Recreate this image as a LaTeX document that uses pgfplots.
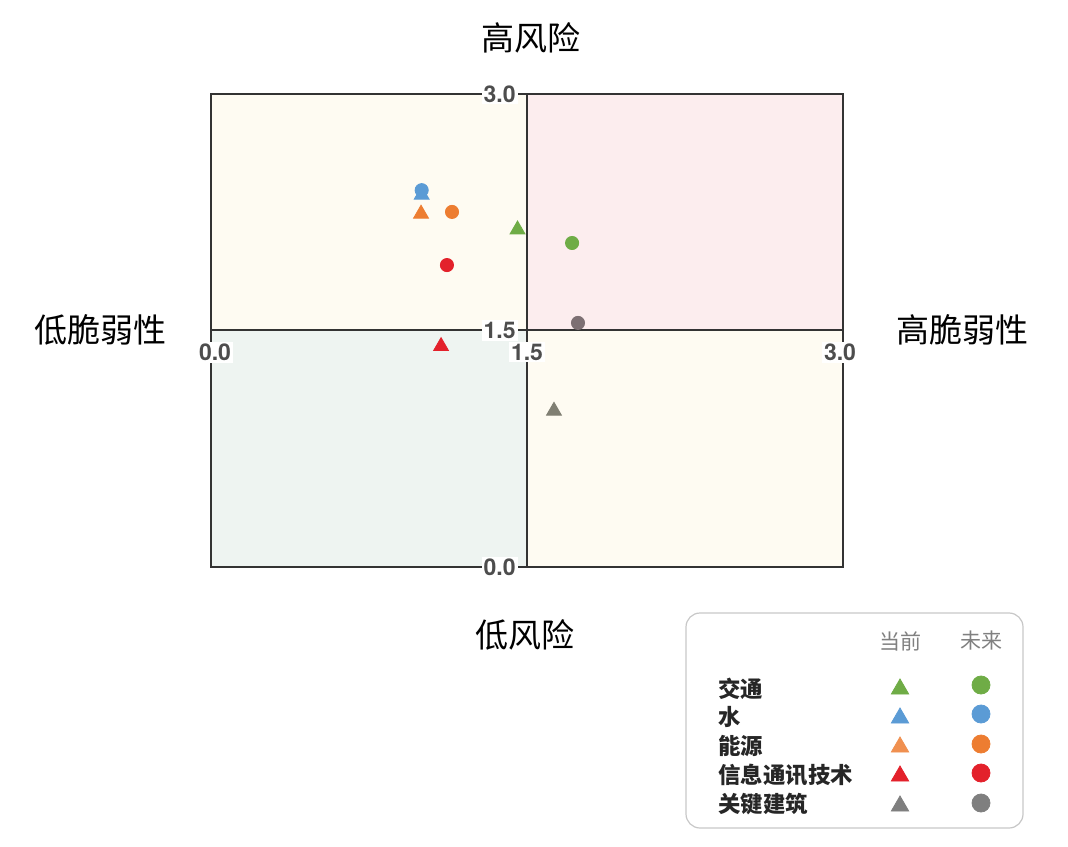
\documentclass[border=0pt]{standalone}
\usepackage{pgfplots}
\pgfplotsset{compat=1.18}
\usepackage{fontspec}
\setmainfont{TeX Gyre Heros}
\newfontfamily\cjk{Noto Sans CJK SC}

\definecolor{cgreen}{HTML}{6FAC46}
\definecolor{cblue}{HTML}{5B9BD5}
\definecolor{corange}{HTML}{ED7D31}
\definecolor{cred}{HTML}{E3212B}
\definecolor{cgrayt}{HTML}{807F73}
\definecolor{cgrayc}{HTML}{7D7073}
\definecolor{cgray}{HTML}{7F7F7F}
\definecolor{qyellow}{HTML}{FEFBF2}
\definecolor{qpink}{HTML}{FCEDEE}
\definecolor{qgreen}{HTML}{EEF4F1}
\definecolor{frame}{HTML}{333333}
\definecolor{ticktext}{HTML}{4D4D4D}

\tikzset{
    ttl/.style={font=\cjk\fontsize{16.5}{18}\selectfont, text=black},
    tk/.style={font=\fontsize{11.5}{13}\selectfont\bfseries, text=ticktext,
        fill=white, inner sep=1pt},
    lg/.style={font=\cjk\bfseries\fontsize{11.2}{13}\selectfont, text=black!85, anchor=west, inner sep=0pt},
    hd/.style={font=\cjk\fontsize{10.5}{12}\selectfont, text=gray, inner sep=0pt},
}

\begin{document}
\begin{tikzpicture}[x=0.5pt, y=0.5pt]
\path[use as bounding box] (0,0) rectangle (1068,846);

% axis titles
\node[ttl] at (531,808) {高风险};
\node[ttl] at (525,211) {低风险};
\node[ttl] at (100,516) {低脆弱性};
\node[ttl] at (962,516) {高脆弱性};

\begin{axis}[
    at={(105.5pt,139.5pt)}, anchor=south west,
    scale only axis, width=316pt, height=236.5pt,
    xmin=0, xmax=3, ymin=0, ymax=3,
    axis lines=none, clip=false,
]
    % quadrants
    \fill[qyellow] (axis cs:0,1.5) rectangle (axis cs:1.5,3);
    \fill[qpink]   (axis cs:1.5,1.5) rectangle (axis cs:3,3);
    \fill[qgreen]  (axis cs:0,0) rectangle (axis cs:1.5,1.5);
    \fill[qyellow] (axis cs:1.5,0) rectangle (axis cs:3,1.5);
    \draw[frame, line width=1pt] (axis cs:0,0) rectangle (axis cs:3,3);
    \draw[frame, line width=1pt] (axis cs:1.5,0) -- (axis cs:1.5,3);
    \draw[frame, line width=1pt] (axis cs:0,1.5) -- (axis cs:3,1.5);
    % tick labels
    \node[tk, anchor=east, xshift=-4.5pt] at (axis cs:1.5,3) {3.0};
    \node[tk, anchor=east, xshift=-4.5pt] at (axis cs:1.5,1.5) {1.5};
    \node[tk, anchor=east, xshift=-4.5pt] at (axis cs:1.5,0) {0.0};
    \node[tk, anchor=north, yshift=-5.5pt, xshift=2pt] at (axis cs:0,1.5) {0.0};
    \node[tk, anchor=north, yshift=-5.5pt] at (axis cs:1.5,1.5) {1.5};
    \node[tk, anchor=north, yshift=-5.5pt, xshift=-1.5pt] at (axis cs:3,1.5) {3.0};

    % current (triangles)
    \addplot[only marks, mark=triangle*, mark size=4.3pt, color=cgreen]  coordinates {(1.455,2.14)};
    \addplot[only marks, mark=triangle*, mark size=4.3pt, color=cblue]   coordinates {(1.0,2.36)};
    \addplot[only marks, mark=triangle*, mark size=4.3pt, color=corange] coordinates {(0.997,2.24)};
    \addplot[only marks, mark=triangle*, mark size=4.3pt, color=cred]    coordinates {(1.092,1.40)};
    \addplot[only marks, mark=triangle*, mark size=4.3pt, color=cgrayt]  coordinates {(1.628,0.99)};
    % future (circles)
    \addplot[only marks, mark=*, mark size=3.3pt, color=cgreen]  coordinates {(1.714,2.055)};
    \addplot[only marks, mark=*, mark size=3.3pt, color=cblue]   coordinates {(1.0,2.39)};
    \addplot[only marks, mark=*, mark size=3.3pt, color=corange] coordinates {(1.144,2.252)};
    \addplot[only marks, mark=*, mark size=3.3pt, color=cred]    coordinates {(1.120,1.915)};
    \addplot[only marks, mark=*, mark size=3.3pt, color=cgrayc]  coordinates {(1.742,1.548)};
\end{axis}

% legend panel
\begin{axis}[
    at={(343pt,9pt)}, anchor=south west,
    scale only axis, width=168.5pt, height=107.5pt,
    xmin=0, xmax=337, ymin=0, ymax=215, y dir=reverse,
    axis lines=none, clip=false,
]
    \draw[black!22, line width=0.6pt, rounded corners=7pt]
        (axis cs:0,0) rectangle (axis cs:337,215);
    \node[hd] at (axis cs:214,28) {当前};
    \node[hd] at (axis cs:295,28) {未来};
    \node[lg] at (axis cs:32,76)  {交通};
    \node[lg] at (axis cs:32,104) {水};
    \node[lg] at (axis cs:32,133) {能源};
    \node[lg] at (axis cs:32,162) {信息通讯技术};
    \node[lg] at (axis cs:32,191) {关键建筑};
    \addplot[only marks, mark=triangle*, mark size=5pt, color=cgreen]  coordinates {(214,76)};
    \addplot[only marks, mark=triangle*, mark size=5pt, color=cblue]   coordinates {(214,105)};
    \addplot[only marks, mark=triangle*, mark size=5pt, color=corange!85!white] coordinates {(214,134)};
    \addplot[only marks, mark=triangle*, mark size=5pt, color=cred]    coordinates {(214,163)};
    \addplot[only marks, mark=triangle*, mark size=5pt, color=cgray]   coordinates {(214,193)};
    \addplot[only marks, mark=*, mark size=4.5pt, color=cgreen]  coordinates {(295,72)};
    \addplot[only marks, mark=*, mark size=4.5pt, color=cblue]   coordinates {(295,101)};
    \addplot[only marks, mark=*, mark size=4.5pt, color=corange] coordinates {(295,131)};
    \addplot[only marks, mark=*, mark size=4.5pt, color=cred]    coordinates {(295,160)};
    \addplot[only marks, mark=*, mark size=4.5pt, color=cgray]   coordinates {(295,190)};
\end{axis}
\end{tikzpicture}
\end{document}
